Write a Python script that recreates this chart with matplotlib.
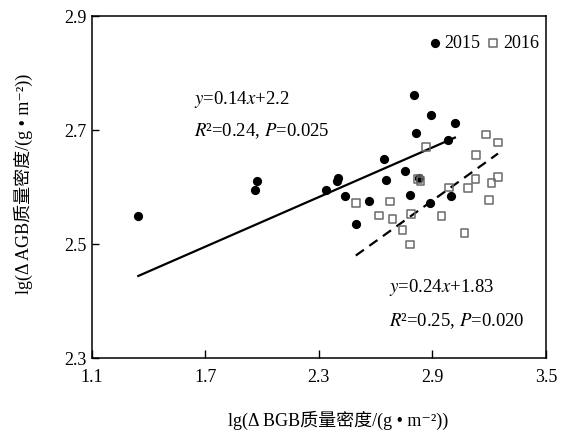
import numpy as np
import matplotlib
matplotlib.use('Agg')
import matplotlib.pyplot as plt

# === Data === #

# 2015: lg(dBGB) vs lg(dAGB)
bgb_2015 = [1.345, 1.960, 1.974, 2.337, 2.395, 2.402, 2.437, 2.495, 2.566,
            2.642, 2.654, 2.754, 2.782, 2.802, 2.812, 2.830, 2.888, 2.895,
            2.983, 2.996, 3.019]
agb_2015 = [2.550, 2.595, 2.611, 2.595, 2.611, 2.616, 2.584, 2.535, 2.575,
            2.649, 2.613, 2.629, 2.586, 2.761, 2.694, 2.616, 2.572, 2.726,
            2.682, 2.584, 2.712]

# 2016
bgb_2016 = [2.865, 3.182, 3.247, 3.130, 2.823, 2.837, 3.128, 3.247, 3.213,
            2.987, 3.087, 3.200, 2.495, 2.677, 2.618, 2.689, 2.788, 2.948,
            2.742, 3.070, 2.782]
agb_2016 = [2.670, 2.692, 2.678, 2.656, 2.614, 2.611, 2.614, 2.618, 2.607,
            2.599, 2.598, 2.577, 2.572, 2.575, 2.550, 2.544, 2.553, 2.549,
            2.525, 2.519, 2.499]

# fitted lines as drawn (slope, intercept)
fit_2015 = (0.145, 2.249)
fit_2016 = (0.238, 1.886)

x_ticks = [1.1, 1.7, 2.3, 2.9, 3.5]
y_ticks = [2.3, 2.5, 2.7, 2.9]

eq_2015 = [r'$y$=0.14$x$+2.2', r'$R$²=0.24, $P$=0.025']
eq_2016 = [r'$y$=0.24$x$+1.83', r'$R$²=0.25, $P$=0.020']

x_label = 'lg(Δ BGB质量密度/(g • m⁻²))'
y_label = 'lg(Δ AGB质量密度/(g • m⁻²))'

# === Style === #
plt.rcParams['font.family'] = ['Liberation Serif', 'Noto Sans CJK SC',
                               'DejaVu Serif']
plt.rcParams['mathtext.fontset'] = 'stix'
fs = 13

fig = plt.figure(figsize=(5.71, 4.34), dpi=100)
ax = fig.add_axes([0.161, 0.175, 0.795, 0.788])

# points
ax.scatter(bgb_2015, agb_2015, s=44, c='black', marker='o',
           linewidths=0, label='2015', zorder=3)
ax.scatter(bgb_2016, agb_2016, s=30, facecolors='none', edgecolors='#6a6a6a',
           marker='s', linewidths=1.1, label='2016', zorder=4)

# regression lines over the range of each year's data
xs = np.array([min(bgb_2015), max(bgb_2015)])
ax.plot(xs, fit_2015[0] * xs + fit_2015[1], color='black', lw=1.6, zorder=2)
xs = np.array([min(bgb_2016), max(bgb_2016)])
ax.plot(xs, fit_2016[0] * xs + fit_2016[1], color='black', lw=1.6,
        linestyle=(0, (4.5, 3)), zorder=2)

# equations
efs = 13.5
ax.text(1.638, 2.753, eq_2015[0], fontsize=efs, va='center', ha='left')
ax.text(1.638, 2.699, eq_2015[1], fontsize=efs, va='center', ha='left')
ax.text(2.671, 2.424, eq_2016[0], fontsize=efs, va='center', ha='left')
ax.text(2.671, 2.364, eq_2016[1], fontsize=efs, va='center', ha='left')

ax.set_xlim(x_ticks[0], x_ticks[-1])
ax.set_ylim(y_ticks[0], y_ticks[-1])
ax.set_xticks(x_ticks)
ax.set_yticks(y_ticks)
ax.set_xticklabels(['%.1f' % v for v in x_ticks])
ax.set_yticklabels(['%.1f' % v for v in y_ticks])
ax.tick_params(axis='x', direction='in', length=6, width=1, pad=8,
               labelsize=fs)
ax.tick_params(axis='y', direction='in', length=5, width=1, pad=4,
               labelsize=fs)
for side in ['top', 'right', 'bottom', 'left']:
    ax.spines[side].set_linewidth(1.1)

ax.set_xlabel(x_label, fontsize=fs)
ax.xaxis.set_label_coords(0.542, -0.155)
ax.set_ylabel(y_label, fontsize=fs)
ax.yaxis.set_label_coords(-0.13, 0.51)

ax.legend(loc='center right', bbox_to_anchor=(0.985, 0.921), ncol=2,
          frameon=False, fontsize=fs, handletextpad=0.05, columnspacing=0.2,
          handlelength=1.0, borderpad=0, borderaxespad=0)

fig.savefig('out.png', dpi=100)
